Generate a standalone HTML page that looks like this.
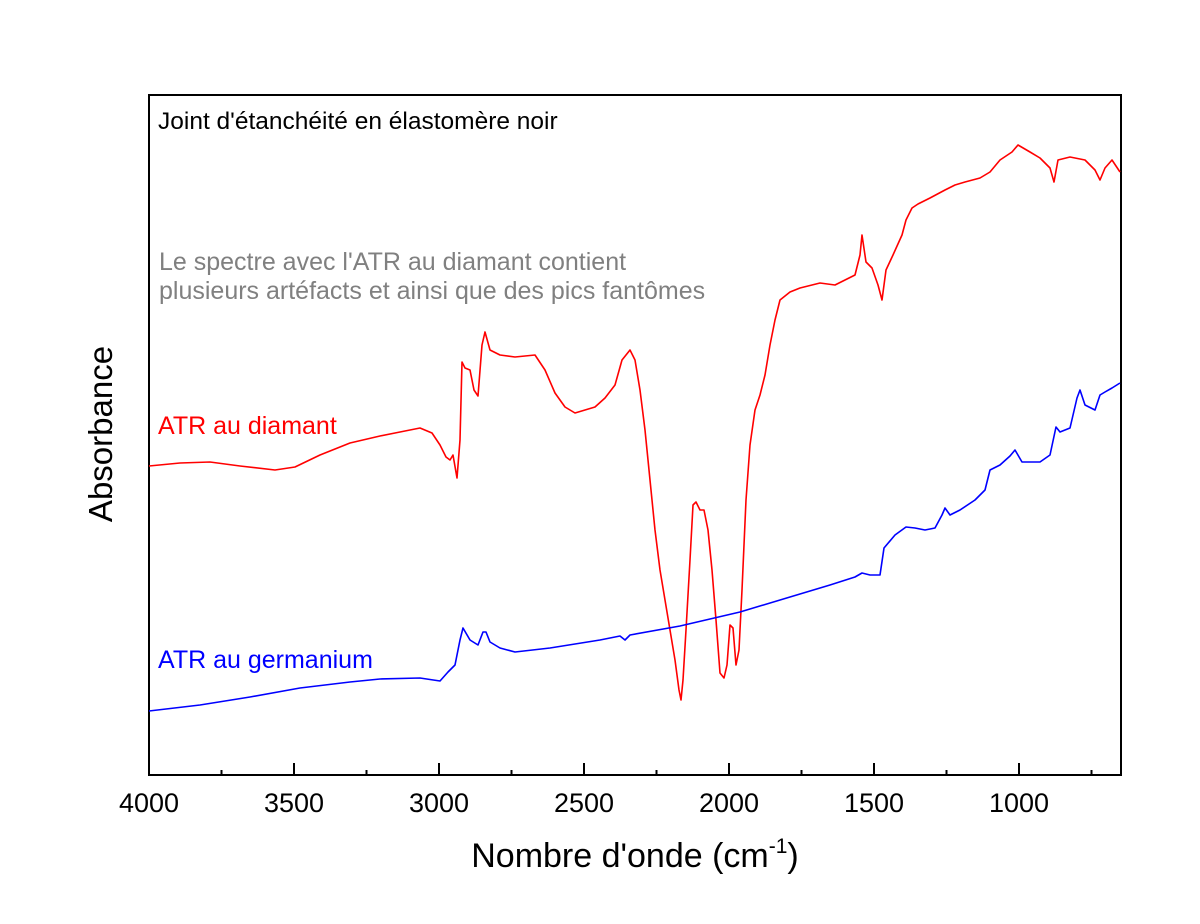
<!DOCTYPE html>
<html><head><meta charset="utf-8"><style>body{margin:0;background:#fff}</style></head><body>
<svg width="1200" height="919" xmlns="http://www.w3.org/2000/svg" font-family="Liberation Sans, Arial, sans-serif">
<rect width="1200" height="919" fill="#fff"/>
<rect x="149" y="95" width="972" height="680" fill="none" stroke="#000" stroke-width="2"/>
<g stroke="#000" stroke-width="2">
<line x1="149" y1="775" x2="149" y2="763"/><line x1="221.5" y1="775" x2="221.5" y2="770"/>
<line x1="294" y1="775" x2="294" y2="763"/><line x1="366.5" y1="775" x2="366.5" y2="770"/>
<line x1="439" y1="775" x2="439" y2="763"/><line x1="511.5" y1="775" x2="511.5" y2="770"/>
<line x1="584" y1="775" x2="584" y2="763"/><line x1="656.5" y1="775" x2="656.5" y2="770"/>
<line x1="729" y1="775" x2="729" y2="763"/><line x1="801.5" y1="775" x2="801.5" y2="770"/>
<line x1="874" y1="775" x2="874" y2="763"/><line x1="946.5" y1="775" x2="946.5" y2="770"/>
<line x1="1019" y1="775" x2="1019" y2="763"/><line x1="1091.5" y1="775" x2="1091.5" y2="770"/>
</g>
<g font-size="27" text-anchor="middle" fill="#000">
<text x="149" y="812">4000</text><text x="294" y="812">3500</text><text x="439" y="812">3000</text>
<text x="584" y="812">2500</text><text x="729" y="812">2000</text><text x="874" y="812">1500</text><text x="1019" y="812">1000</text>
</g>
<text x="635" y="867" font-size="34" text-anchor="middle">Nombre d'onde (cm<tspan font-size="21" dy="-14">-1</tspan><tspan dy="14">)</tspan></text>
<text transform="translate(112,434) rotate(-90)" font-size="33" text-anchor="middle">Absorbance</text>
<text x="158" y="129" font-size="24.5">Joint d'étanchéité en élastomère noir</text>
<text x="159" y="270" font-size="25" fill="#808080">Le spectre avec l'ATR au diamant contient</text>
<text x="159" y="299" font-size="25" fill="#808080">plusieurs artéfacts et ainsi que des pics fantômes</text>
<text x="158" y="434" font-size="25" fill="#ff0000">ATR au diamant</text>
<text x="158" y="668" font-size="25" fill="#0000ff">ATR au germanium</text>
<polyline fill="none" stroke="#ff0000" stroke-width="1.6" stroke-linejoin="round" points="149,466 180,463 210,462 240,466 275,470 295,467 320,455 350,443 380,436 400,432 420,428 432,433 440,445 446,457 450,460 453,455 457,478 460,440 462,362 465,368 470,370 474,390 478,396 482,345 485,332 490,350 500,355 515,357 535,355 545,370 555,393 565,407 575,413 585,410 595,407 605,398 615,385 622,360 630,350 635,360 640,390 645,430 650,480 655,530 660,570 665,600 670,630 675,660 679,690 681,700 683,680 686,630 690,560 693,505 696,502 700,510 704,510 708,530 712,570 716,620 720,673 724,678 727,665 730,625 733,628 736,665 739,650 742,590 746,500 750,445 755,410 760,395 765,375 770,345 775,320 780,300 790,292 800,288 820,283 835,285 845,280 855,275 860,255 862,235 866,262 872,268 878,285 882,300 886,270 893,255 902,235 906,220 912,208 918,204 930,198 945,190 955,185 965,182 980,178 990,172 1000,160 1012,152 1018,145 1030,152 1040,158 1050,168 1054,182 1058,160 1070,157 1085,160 1095,170 1100,180 1105,168 1112,160 1120,172"/>
<polyline fill="none" stroke="#0000ff" stroke-width="1.6" stroke-linejoin="round" points="149,711 200,705 250,697 300,688 350,682 380,679 420,678 440,681 448,672 455,665 460,640 463,628 470,640 478,645 483,632 486,632 490,642 500,648 515,652 550,648 600,640 620,636 625,640 630,635 680,626 740,612 790,597 830,585 855,577 862,573 870,575 880,575 884,548 895,535 906,527 915,528 925,530 935,528 942,515 945,508 950,515 960,510 975,500 985,490 990,470 1000,465 1010,456 1015,450 1022,462 1040,462 1050,455 1056,427 1060,432 1070,428 1077,398 1080,390 1085,405 1095,410 1100,395 1105,392 1112,388 1120,383"/>
</svg>
</body></html>
